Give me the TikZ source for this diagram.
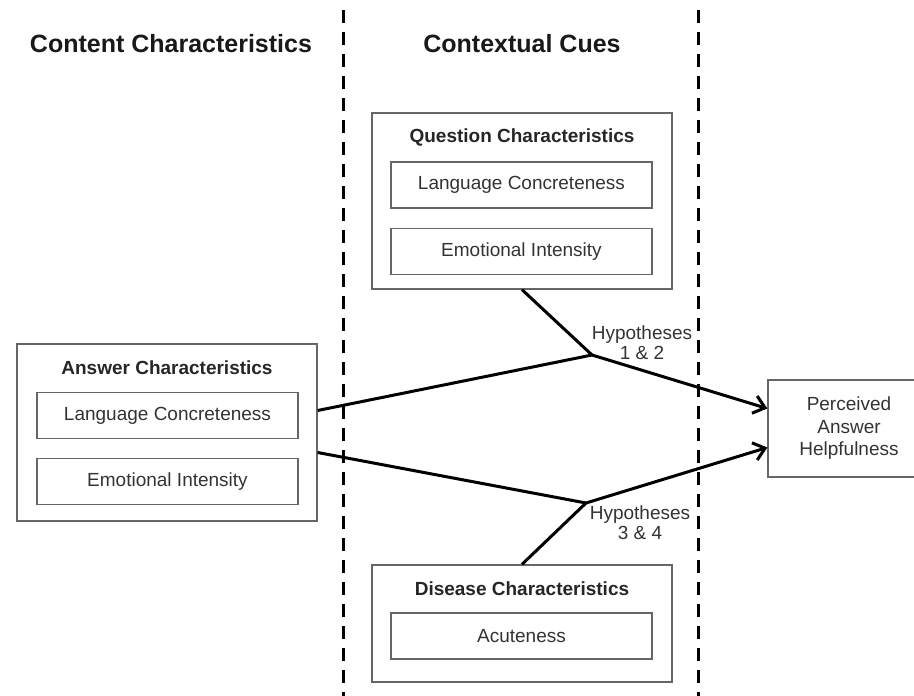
\documentclass[tikz,border=0pt]{standalone}
\usepackage{fontspec}
\setmainfont{Liberation Sans}
\usepackage{tikz}
\usetikzlibrary{arrows.meta, positioning}

\definecolor{framegray}{HTML}{666666}
\definecolor{textgray}{HTML}{333333}

\begin{document}
\begin{tikzpicture}[
    x=1pt, y=-1pt,
    head/.style={font=\bfseries\fontsize{25}{30}\selectfont, text=black!90},
    group/.style={rectangle, draw=framegray, line width=1.3pt, minimum width=300pt},
    grouptitle/.style={font=\bfseries\fontsize{19}{22}\selectfont, text=black!85},
    item/.style={rectangle, draw=framegray, line width=1.3pt, minimum width=261pt,
                 minimum height=46pt, font=\fontsize{19}{22}\selectfont, text=textgray},
    hyp/.style={align=center, font=\fontsize{19}{20}\selectfont, text=textgray, inner sep=0pt},
    divider/.style={line width=3pt, dash pattern=on 13pt off 9pt},
    link/.style={line width=3pt, line join=round},
    arrow/.style={link, -{Straight Barb[length=11pt, width=18pt]}}
]
\clip (0,0) rectangle (914,696);

% column dividers
\draw[divider] (343,10) -- (343,696);
\draw[divider] (698,10) -- (698,696);

\node[head] (content) at (171,44) {Content Characteristics};
\node[head] (context) at (522,44) {Contextual Cues};

% question characteristics
\node[group, minimum height=176pt] (qgroup) at (522,201) {};
\node[grouptitle] (qtitle) at (522,137) {Question Characteristics};
\node[item] (qlang) at (521.5,185) {Language Concreteness};
\node[item, below=19pt of qlang] (qemo) {Emotional Intensity};

% answer characteristics
\node[group, minimum height=177pt] (agroup) at (167,432.5) {};
\node[grouptitle] (atitle) at (167,368) {Answer Characteristics};
\node[item] (alang) at (167.5,415.5) {Language Concreteness};
\node[item, below=19pt of alang] (aemo) {Emotional Intensity};

% disease characteristics
\node[group, minimum height=117pt] (dgroup) at (522,623.5) {};
\node[grouptitle] (dtitle) at (522,589) {Disease Characteristics};
\node[item] (dacute) at (521.5,636) {Acuteness};

\node[group, minimum width=162pt, minimum height=97pt, align=center,
      font=\fontsize{19}{22.5}\selectfont, text=textgray] (helpful) at (849,428.5)
    {Perceived\\Answer\\Helpfulness};

\coordinate (hyp12) at (592,355);
\coordinate (hyp34) at (586,503);

\draw[link]  ([yshift=22pt]agroup.east) -- (hyp12);
\draw[link]  (qgroup.south) -- (hyp12);
\draw[arrow] (hyp12) -- ([yshift=20pt]helpful.west);
\draw[link]  ([yshift=-20pt]agroup.east) -- (hyp34);
\draw[link]  (dgroup.north) -- (hyp34);
\draw[arrow] (hyp34) -- ([yshift=-19pt]helpful.west);

\node[hyp] (hyplabel12) at (642,343) {Hypotheses\\1 \& 2};
\node[hyp] (hyplabel34) at (640,523) {Hypotheses\\3 \& 4};
\end{tikzpicture}
\end{document}
